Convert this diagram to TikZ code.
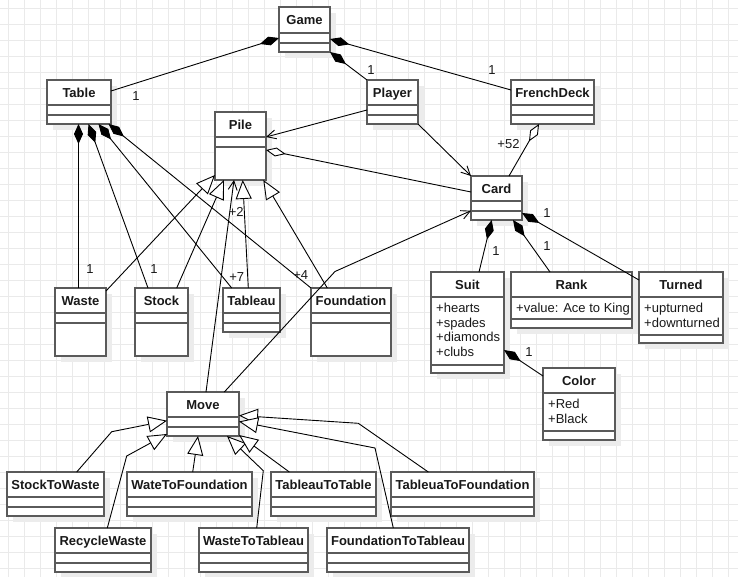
\documentclass[tikz,border=0pt]{standalone}
\usepackage{fontspec}
\setmainfont{Liberation Sans}
\usetikzlibrary{arrows.meta}
\definecolor{gridc}{RGB}{234,234,234}
\definecolor{shadc}{RGB}{236,236,236}
\definecolor{boxc}{RGB}{90,90,90}
\definecolor{txtc}{RGB}{25,25,25}
\tikzset{
 clsbox/.style={draw=boxc, line width=1.3pt, fill=white, rectangle, inner sep=0pt, outer sep=0pt, anchor=north west},
 divl/.style={draw=boxc, line width=1.3pt},
 ttl/.style={font=\bfseries\fontsize{13}{15}\selectfont, text=txtc, inner sep=0pt, anchor=base},
 attr/.style={font=\fontsize{13}{15}\selectfont, text=txtc, inner sep=0pt, anchor=base west},
 lbl/.style={font=\fontsize{13}{15}\selectfont, text=txtc, inner sep=0pt, anchor=base},
 conn/.style={draw=black, line width=0.9pt},
 comp/.style={conn, {Diamond[length=20pt,width=9pt]}-},
 aggr/.style={conn, {Diamond[length=20pt,width=9pt,fill=white]}-},
 inh/.style={conn, -{Triangle[length=19pt,width=16pt,fill=white]}},
 nav/.style={conn, -{Straight Barb[length=9pt,width=9pt]}},
}
\newcommand\umlclass[8]{%
 \fill[shadc] (#2+6,#3+6) rectangle (#4+6,#5+6);
 \node[clsbox, minimum width={(#4-#2)*1pt}, minimum height={(#5-#3)*1pt}] (#1) at (#2,#3) {};
 \draw[divl] (#2,#6) -- (#4,#6) (#2,#7) -- (#4,#7);
 \node[ttl] (#1-t) at ({(#2+#4)/2},{(#3+#6)/2+4.7}) {#8};
}
\begin{document}
\begin{tikzpicture}[x=1pt,y=-1pt]
\useasboundingbox (0,0) rectangle (738,577);
\fill[white] (0,0) rectangle (738,577);
\foreach \i in {0,...,45} \draw[gridc, line width=0.8pt] (8+16*\i,0) -- (8+16*\i,577);
\foreach \i in {0,...,35} \draw[gridc, line width=0.8pt] (0,8+16*\i) -- (738,8+16*\i);

% classes
\umlclass{game}{279}{7}{330}{52}{33}{43}{Game}
\umlclass{table}{47}{80}{111}{124}{105}{115}{Table}
\umlclass{player}{367}{80}{418}{124}{105}{115}{Player}
\umlclass{deck}{511}{80}{594}{124}{105}{115}{FrenchDeck}
\umlclass{pile}{215}{112}{266}{180}{137}{147}{Pile}
\umlclass{card}{471}{176}{522}{220}{201}{211}{Card}
\umlclass{suit}{431}{272}{504}{373}{297}{365}{Suit}
\umlclass{rank}{511}{272}{632}{328}{297}{319}{Rank}
\umlclass{turned}{639}{272}{723}{343}{297}{335}{Turned}
\umlclass{color}{543}{368}{615}{440}{393}{431}{Color}
\umlclass{waste}{55}{288}{106}{356}{313}{323}{Waste}
\umlclass{stock}{135}{288}{188}{356}{313}{323}{Stock}
\umlclass{tableau}{223}{288}{280}{332}{313}{323}{Tableau}
\umlclass{foundation}{311}{288}{391}{356}{313}{323}{Foundation}
\umlclass{move}{167}{392}{239}{436}{417}{427}{Move}
\umlclass{stw}{7}{472}{104}{516}{497}{507}{StockToWaste}
\umlclass{wtf}{127}{472}{252}{516}{497}{507}{WateToFoundation}
\umlclass{ttt}{271}{472}{376}{516}{497}{507}{TableauToTable}
\umlclass{ttf}{391}{472}{534}{516}{497}{507}{TableuaToFoundation}
\umlclass{rw}{55}{528}{151}{572}{553}{563}{RecycleWaste}
\umlclass{wtt}{199}{528}{308}{572}{553}{563}{WasteToTableau}
\umlclass{ftt}{327}{528}{469}{572}{553}{563}{FoundationToTableau}

% attributes
\node[attr] (suit-a1) at (436,312.3) {+hearts};
\node[attr] (suit-a2) at (436,327) {+spades};
\node[attr] (suit-a3) at (436,341.7) {+diamonds};
\node[attr] (suit-a4) at (436,356.4) {+clubs};
\node[attr] (rank-a1) at (516,312.3) {+value: Ace to King};
\node[attr] (turned-a1) at (644,312.3) {+upturned};
\node[attr] (turned-a2) at (644,327) {+downturned};
\node[attr] (color-a1) at (548,408.3) {+Red};
\node[attr] (color-a2) at (548,423) {+Black};

% bend points
\coordinate (b1) at (335,271.5);
\coordinate (b2) at (111.7,431.7);
\coordinate (b3) at (126.7,456);
\coordinate (b4) at (263.3,470.7);
\coordinate (b5) at (358.3,423.3);
\coordinate (b6) at (375,448);

% associations
\draw[comp] ([shift={(0,31)}]game.north west) -- ([shift={(64,11)}]table.north west);
\draw[comp] (game.south east) -- (player.north west);
\draw[comp] ([shift={(51,32)}]game.north west) -- ([shift={(0,10)}]deck.north west);
\draw[nav] ([shift={(0,30)}]player.north west) -- ([shift={(51,25)}]pile.north west);
\draw[nav] (player.south east) -- (card.north west);
\draw[aggr] ([shift={(51,38)}]pile.north west) -- ([shift={(0,16)}]card.north west);
\draw[aggr] ([shift={(28,44)}]deck.north west) -- ([shift={(38,0)}]card.north west);

\draw[comp] ([shift={(31.5,44)}]table.north west) -- ([shift={(23.5,0)}]waste.north west);
\draw[comp] ([shift={(41.5,44)}]table.north west) -- ([shift={(13,0)}]stock.north west);
\draw[comp] ([shift={(51.5,44)}]table.north west) -- ([shift={(8.7,0)}]tableau.north west);
\draw[comp] ([shift={(61.5,44)}]table.north west) -- (foundation.north west);

\draw[inh] ([shift={(51,3)}]waste.north west) -- ([shift={(0,63)}]pile.north west);
\draw[inh] ([shift={(41.7,0)}]stock.north west) -- ([shift={(9,68)}]pile.north west);
\draw[nav] ([shift={(39,0)}]move.north west) -- ([shift={(19,68)}]pile.north west);
\draw[inh] ([shift={(25.3,0)}]tableau.north west) -- ([shift={(27.7,68)}]pile.north west);
\draw[inh] ([shift={(16.3,0)}]foundation.north west) -- ([shift={(48.3,68)}]pile.north west);

\draw[nav] ([shift={(57.3,0)}]move.north west) -- (b1) -- ([shift={(0,34.7)}]card.north west);

\draw[comp] ([shift={(20.7,44)}]card.north west) -- ([shift={(48,0)}]suit.north west);
\draw[comp] ([shift={(42,44)}]card.north west) -- ([shift={(39,0)}]rank.north west);
\draw[comp] ([shift={(51,37)}]card.north west) -- ([shift={(0,8)}]turned.north west);
\draw[comp] ([shift={(73,78)}]suit.north west) -- ([shift={(0,8)}]color.north west);

% generalizations to Move
\draw[inh] ([shift={(69.7,0)}]stw.north west) -- (b2) -- ([shift={(0,28.7)}]move.north west);
\draw[inh] ([shift={(52.3,0)}]rw.north west) -- (b3) -- ([shift={(0,42)}]move.north west);
\draw[inh] ([shift={(65.7,0)}]wtf.north west) -- ([shift={(31,44)}]move.north west);
\draw[inh] ([shift={(57.7,0)}]wtt.north west) -- (b4) -- ([shift={(60,44)}]move.north west);
\draw[inh] ([shift={(18.3,0)}]ttt.north west) -- ([shift={(72,43)}]move.north west);
\draw[inh] ([shift={(37.3,0)}]ttf.north west) -- (b5) -- ([shift={(72,23.5)}]move.north west);
\draw[inh] ([shift={(66.3,0)}]ftt.north west) -- (b6) -- ([shift={(72,29.5)}]move.north west);

% multiplicities
\node[lbl] (m1) at (136,100.3) {1};
\node[lbl] (m2) at (371,74.6) {1};
\node[lbl] (m3) at (492,74.6) {1};
\node[lbl] (m4) at (508.5,148.6) {+52};
\node[lbl] (m5) at (90,273.6) {1};
\node[lbl] (m6) at (154,273.6) {1};
\node[lbl] (m7) at (236.7,281.6) {+7};
\node[lbl] (m8) at (300.8,279.6) {+4};
\node[lbl] (m9) at (236.3,216.6) {+2};
\node[lbl] (m10) at (496,255.6) {1};
\node[lbl] (m11) at (547,250.3) {1};
\node[lbl] (m12) at (547,217.9) {1};
\node[lbl] (m13) at (529,356.3) {1};
\end{tikzpicture}
\end{document}
